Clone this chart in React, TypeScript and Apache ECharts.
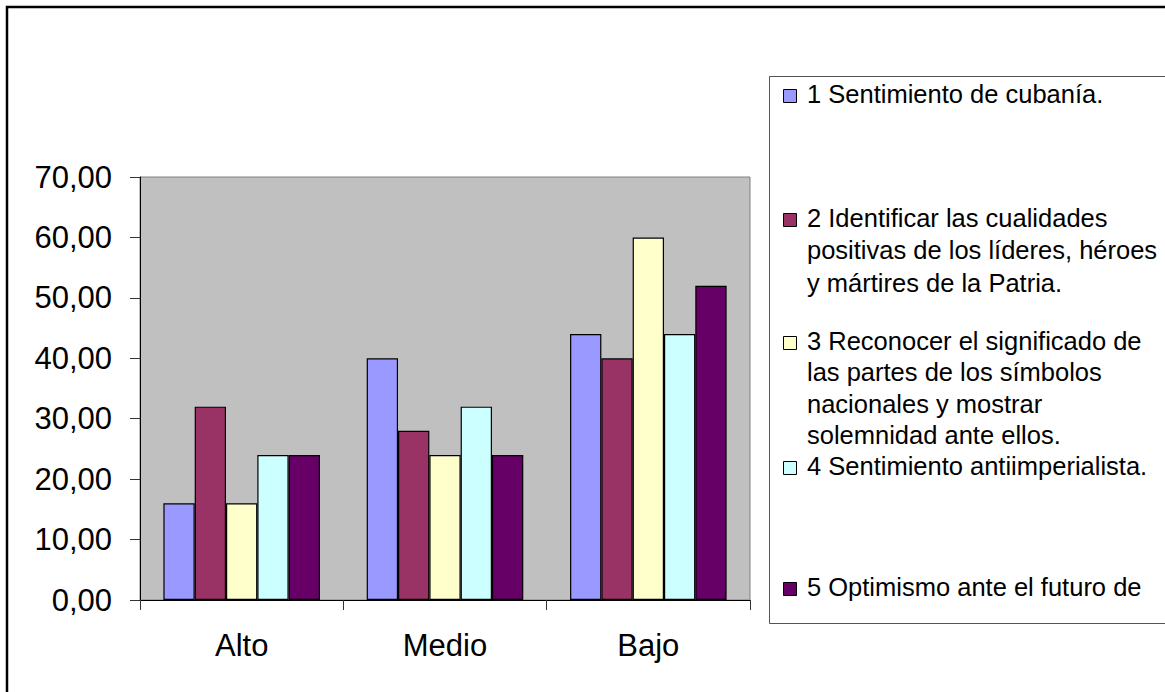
import React, { useEffect, useRef } from "react";
import * as echarts from "echarts";

const categories = ["Alto", "Medio", "Bajo"];
const serie1 = [16, 40, 44];
const serie2 = [32, 28, 40];
const serie3 = [16, 24, 60];
const serie4 = [24, 32, 44];
const serie5 = [24, 24, 52];
const seriesNames = [
  "1 Sentimiento de cubanía.",
  "2 Identificar las cualidades positivas de los líderes, héroes y mártires de la Patria.",
  "3 Reconocer el significado de las partes de los símbolos nacionales y mostrar solemnidad ante ellos.",
  "4 Sentimiento antiimperialista.",
  "5 Optimismo ante el futuro de",
];
const legendLines = [
  ["1 Sentimiento de cubanía."],
  ["2 Identificar las cualidades", "positivas de los líderes, héroes", "y mártires de la Patria."],
  ["3 Reconocer el significado de", "las partes de los símbolos", "nacionales y mostrar", "solemnidad ante ellos."],
  ["4 Sentimiento antiimperialista."],
  ["5 Optimismo ante el futuro de"],
];
const colors = ["#9999FF", "#993366", "#FFFFCC", "#CCFFFF", "#660066"];
const yTicks = [0, 10, 20, 30, 40, 50, 60, 70];

const FONT = "'Liberation Sans', Arial, sans-serif";

export default function App() {
  const ref = useRef<HTMLDivElement>(null);
  useEffect(() => {
    if (!ref.current) return;
    const chart = echarts.init(ref.current, undefined, { renderer: "svg" });
    const data = [serie1, serie2, serie3, serie4, serie5];
    const itemTops = [94, 218, 341, 466, 587];
    const lineHs = [32, 32.3, 31.3, 32, 32];
    const legendGraphics: any[] = [];
    legendLines.forEach((lines, i) => {
      legendGraphics.push({
        type: "rect",
        shape: { x: 783.5, y: itemTops[i] - 4.5, width: 13, height: 13 },
        style: { fill: colors[i], stroke: "#000", lineWidth: 1 },
      });
      lines.forEach((ln, j) => {
        legendGraphics.push({
          type: "text",
          style: {
            text: ln,
            x: 807,
            y: itemTops[i] + j * lineHs[i],
            fill: "#000",
            font: `25.5px ${FONT}`,
            verticalAlign: "middle",
            align: "left",
          },
        });
      });
    });
    chart.setOption({
      animation: false,
      backgroundColor: "#fff",
      textStyle: { fontFamily: FONT },
      grid: {
        left: 140,
        top: 177,
        right: 415,
        bottom: 92,
        show: true,
        backgroundColor: "#C0C0C0",
        borderColor: "#808080",
        borderWidth: 1,
      },
      xAxis: {
        type: "category",
        data: categories,
        axisLine: { lineStyle: { color: "#000", width: 1 } },
        axisTick: { show: true, length: 10, lineStyle: { color: "#333" } },
        axisLabel: { color: "#000", fontSize: 31, fontFamily: FONT, margin: 30 },
        splitLine: { show: false },
      },
      yAxis: {
        type: "value",
        min: yTicks[0],
        max: yTicks[yTicks.length - 1],
        interval: 10,
        axisLine: { show: true, lineStyle: { color: "#000", width: 1 } },
        axisTick: { show: true, length: 10, lineStyle: { color: "#333" } },
        axisLabel: {
          color: "#000",
          fontSize: 31,
          fontFamily: FONT,
          margin: 28,
          formatter: (v: number) => v.toFixed(2).replace(".", ","),
        },
        splitLine: { show: false },
      },
      series: data.map((d, i) => ({
        type: "bar",
        name: seriesNames[i],
        data: d,
        barGap: "0%",
        barCategoryGap: "23%",
        itemStyle: { color: colors[i], borderColor: "#000", borderWidth: 1.2 },
      })),
      graphic: [
        {
          type: "rect",
          shape: { x: 7, y: 7, width: 1300, height: 800 },
          style: { fill: "none", stroke: "#000", lineWidth: 2.5 },
          silent: true,
        },
        {
          type: "rect",
          shape: { x: 769.5, y: 76.5, width: 500, height: 547 },
          style: { fill: "#fff", stroke: "#555", lineWidth: 1 },
          silent: true,
        },
        ...legendGraphics,
      ],
    });
    return () => chart.dispose();
  }, []);
  return (
    <div
      ref={ref}
      style={{ position: "absolute", left: 0, top: 0, width: 1165, height: 692 }}
    />
  );
}
